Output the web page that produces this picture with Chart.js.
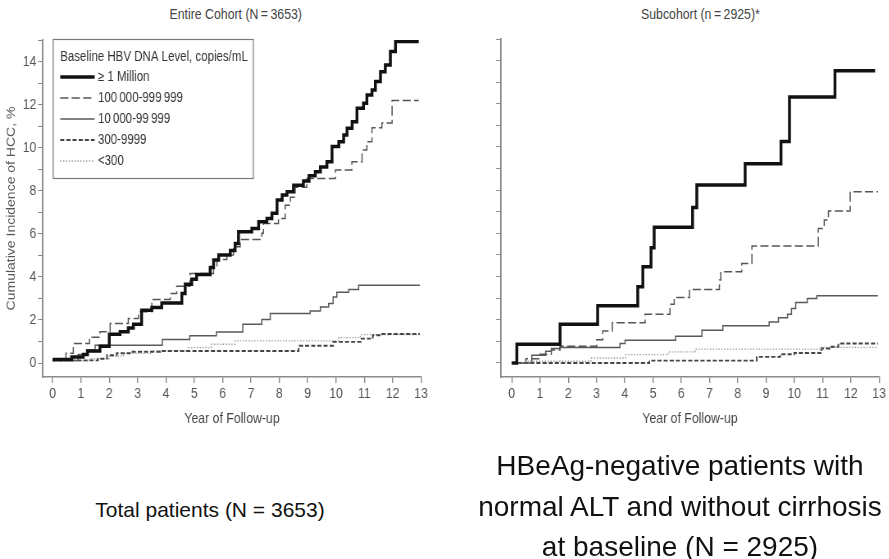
<!DOCTYPE html>
<html>
<head>
<meta charset="utf-8">
<script src="https://cdn.jsdelivr.net/npm/chart.js@4.4.1/dist/chart.umd.min.js"></script>
<style>
    html, body { margin: 0; padding: 0; background: #fff; }
    body { width: 889px; height: 559px; position: relative; overflow: hidden; font-family: "Liberation Sans", Arial, sans-serif; }
    /* the original figure is horizontally condensed; draw wide, then squeeze */
    canvas { position: absolute; top: 0; transform-origin: 0 0; transform: scaleX(0.82); }
    #left { left: 0; }
    #right { left: 450px; }
    .panel-title { position: absolute; top: 5px; width: 300px; text-align: center; color: #444; font-size: 15px; }
    .panel-title span { display: inline-block; transform: scaleX(0.82); }
    .caption { position: absolute; text-align: center; color: #111; }
</style>
</head>
<body>
<div class="panel-title" style="left:86px"><span>Entire Cohort (N&#8201;=&#8201;3653)</span></div>
<div class="panel-title" style="left:550px"><span>Subcohort (n&#8201;=&#8201;2925)*</span></div>
<canvas id="left" width="549" height="440"></canvas>
<canvas id="right" width="536" height="440"></canvas>
<div class="caption" style="left:10px; top:496px; width:400px; font-size:21px; line-height:28px">Total patients (N = 3653)</div>
<div class="caption" style="left:460px; top:446px; width:440px; font-size:28px; line-height:40.5px">HBeAg-negative patients with<br>normal ALT and without cirrhosis<br>at baseline (N = 2925)</div>

<script>
// ---- data: Kaplan-Meier style steps, year -> cumulative incidence (%) ----
const seriesLabels = ['\u2265 1 Million', '100\u2009000-999\u2009999', '10\u2009000-99\u2009999', '300-9999', '<300'];
const xTicks = [0, 1, 2, 3, 4, 5, 6, 7, 8, 9, 10, 11, 12, 13];
const yTicks = [0, 1, 2, 3, 4, 5, 6, 7, 8, 9, 10, 11, 12, 13, 14, 15];

// Entire cohort
const allMillionT = [0, 0.67, 1.08, 1.23, 1.67, 2.0, 2.38, 2.67, 2.85, 3.14, 3.5, 3.85, 4.56, 4.68, 4.91, 5.08, 5.56, 5.68, 5.86, 6.27, 6.44, 6.56, 7.03, 7.27, 7.56, 7.74, 7.92, 8.1, 8.27, 8.5, 8.85, 9.05, 9.27, 9.45, 9.68, 9.86, 10.1, 10.27, 10.39, 10.57, 10.74, 10.97, 11.09, 11.27, 11.39, 11.57, 11.74, 11.92, 12.1, 12.92];
const allMillionV = [0.16, 0.28, 0.40, 0.56, 0.78, 1.33, 1.45, 1.63, 1.80, 2.45, 2.58, 2.79, 3.23, 3.66, 3.89, 4.11, 4.44, 4.78, 5.01, 5.22, 5.55, 6.09, 6.25, 6.56, 6.71, 6.95, 7.57, 7.80, 7.95, 8.26, 8.45, 8.70, 8.88, 9.10, 9.35, 10.05, 10.28, 10.59, 10.90, 11.20, 11.83, 12.06, 12.45, 12.68, 13.07, 13.53, 13.84, 14.47, 14.93, 14.93];
const all100kT = [0, 0.47, 0.73, 1.3, 1.67, 2.03, 2.67, 3.03, 3.5, 4.15, 4.38, 4.85, 5.68, 5.8, 6.15, 6.38, 6.62, 7.38, 7.44, 7.97, 8.21, 8.39, 8.56, 8.97, 9.98, 10.56, 10.92, 11.09, 11.27, 11.62, 11.98, 12.92];
const all100kV = [0.15, 0.45, 0.90, 1.20, 1.45, 1.83, 2.07, 2.38, 2.95, 3.23, 3.57, 4.16, 4.50, 4.81, 5.01, 5.40, 5.74, 6.02, 6.48, 6.71, 7.33, 7.70, 8.16, 8.57, 8.96, 9.35, 9.89, 10.28, 10.93, 11.14, 12.19, 12.19];
const all10kT = [0, 0.9, 1.2, 1.5, 3.87, 4.84, 5.78, 6.71, 7.38, 7.68, 9.09, 9.45, 9.74, 9.9, 10.03, 10.45, 10.8, 12.96];
const all10kV = [0.12, 0.40, 0.60, 0.82, 1.09, 1.26, 1.44, 1.80, 2.02, 2.30, 2.42, 2.60, 2.76, 3.07, 3.29, 3.41, 3.61, 3.61];
const all300T = [0, 1.6, 1.92, 2.26, 2.73, 3.8, 8.68, 9.9, 10.9, 11.3, 11.6, 12.96];
const all300V = [0.12, 0.20, 0.36, 0.45, 0.52, 0.56, 0.80, 0.98, 1.13, 1.29, 1.35, 1.35];
const allLowT = [0, 1.3, 2.0, 2.5, 3.5, 4.8, 5.6, 6.44, 10.1, 10.86, 12.96];
const allLowV = [0.10, 0.20, 0.32, 0.45, 0.56, 0.71, 0.87, 1.03, 1.18, 1.32, 1.32];

// Subcohort
const subMillionT = [0, 0.18, 1.71, 3.04, 4.46, 4.64, 4.93, 5.04, 6.4, 6.55, 8.26, 9.53, 9.83, 11.44, 12.86];
const subMillionV = [0, 0.87, 1.79, 2.65, 3.53, 4.45, 5.33, 6.28, 7.20, 8.24, 9.22, 10.25, 12.31, 13.53, 13.53];
const sub100kT = [0, 0.5, 1.0, 1.4, 1.71, 3.01, 3.22, 3.56, 4.72, 5.6, 5.75, 6.29, 7.35, 7.4, 8.14, 8.5, 10.85, 11.06, 11.21, 11.98, 12.96];
const sub100kV = [0, 0.20, 0.40, 0.60, 0.77, 1.08, 1.48, 1.86, 2.26, 2.72, 3.03, 3.40, 3.84, 4.22, 4.61, 5.41, 6.23, 6.62, 7.04, 7.93, 7.93];
const sub10kT = [0, 0.71, 1.2, 1.4, 1.7, 3.83, 4.01, 5.8, 6.73, 7.47, 9.11, 9.44, 9.76, 9.9, 10.05, 10.46, 10.8, 12.96];
const sub10kV = [0, 0.36, 0.54, 0.67, 0.72, 0.90, 1.05, 1.24, 1.52, 1.72, 1.90, 2.09, 2.26, 2.52, 2.80, 2.99, 3.11, 3.11];
const sub300T = [0, 4.87, 8.67, 9.5, 10.0, 10.97, 11.26, 11.56, 12.96];
const sub300V = [0, 0.11, 0.28, 0.40, 0.46, 0.67, 0.75, 0.90, 0.90];
const subLowT = [0, 0.55, 2.8, 4.03, 5.54, 6.49, 10.9, 12.96];
const subLowV = [0, 0.08, 0.23, 0.39, 0.51, 0.64, 0.72, 0.72];

const FONT = '"Liberation Sans", Arial, sans-serif';
const AXIS = '#8a8a8a';

Chart.defaults.color = '#444';
Chart.defaults.font.family = FONT;

function steps(ts, vs) {
    return ts.map((t, i) => ({ x: t, y: vs[i] }));
}

// line styles for the five DNA level groups
const styles = [
    { borderColor: '#111', borderWidth: 3.5, borderDash: [] },
    { borderColor: '#555', borderWidth: 1.5, borderDash: [10, 4] },
    { borderColor: '#5a5a5a', borderWidth: 1.5, borderDash: [] },
    { borderColor: '#444', borderWidth: 1.9, borderDash: [5, 2.5] },
    { borderColor: '#999', borderWidth: 1.3, borderDash: [1.5, 2] },
];

function makeDatasets(groups) {
    return groups.map((g, i) => Object.assign({
        label: seriesLabels[i],
        data: steps(g[0], g[1]),
        stepped: true,
        pointRadius: 0,
        fill: false,
    }, styles[i]));
}

/* ---- legend box drawn inside the left panel ---- */
const legendBox = {
    id: 'legendBox',
    afterDraw(chart) {
        const ctx = chart.ctx;
        const left = chart.chartArea.left + 12;
        const top = chart.chartArea.top - 1;
        ctx.save();
        ctx.fillStyle = '#fff';
        ctx.fillRect(left, top, 244, 139);
        ctx.strokeStyle = '#777';
        ctx.lineWidth = 1.2;
        ctx.strokeRect(left + 0.5, top + 0.5, 244, 139);
        ctx.font = '14px ' + FONT;
        ctx.fillStyle = '#333';
        ctx.textBaseline = 'middle';
        ctx.fillText('Baseline HBV DNA Level, copies/mL', left + 9, top + 18);
        chart.data.datasets.forEach((ds, i) => {
            const y = top + 38 + i * 21;
            ctx.strokeStyle = ds.borderColor;
            ctx.lineWidth = ds.borderWidth;
            ctx.setLineDash(ds.borderDash || []);
            ctx.beginPath();
            ctx.moveTo(left + 9, y);
            ctx.lineTo(left + 51, y);
            ctx.stroke();
            ctx.setLineDash([]);
            ctx.fillText(ds.label, left + 55, y);
        });
        ctx.restore();
    }
};

function makeChart(id, datasets, opts) {
    return new Chart(document.getElementById(id).getContext('2d'), {
        type: 'line',
        data: { datasets: datasets },
        plugins: opts.plugins || [],
        options: {
            responsive: false,
            animation: false,
            layout: { padding: { top: opts.top, right: opts.right, left: 0, bottom: 0 } },
            plugins: { legend: { display: false }, tooltip: { enabled: false } },
            scales: {
                x: {
                    type: 'linear',
                    min: opts.xMin,
                    max: 13,
                    afterBuildTicks: s => { s.ticks = xTicks.map(v => ({ value: v })); },
                    afterFit: s => { s.height = 63; },
                    grid: { drawOnChartArea: false, drawTicks: true, tickLength: 6, color: AXIS, lineWidth: 1.4 },
                    border: { display: true, color: AXIS, width: 1.5 },
                    ticks: { font: { size: 15 }, color: '#555', padding: 2, maxRotation: 0, autoSkip: false },
                    title: { display: true, text: 'Year of Follow-up', font: { size: 15 }, color: '#444', padding: { top: 0, bottom: 12 } }
                },
                y: {
                    type: 'linear',
                    min: -0.65,
                    max: 15,
                    afterBuildTicks: s => { s.ticks = yTicks.map(v => ({ value: v })); },
                    afterFit: s => { s.width = opts.yWidth; },
                    grid: { drawOnChartArea: false, drawTicks: true, tickLength: 6, color: AXIS },
                    border: { display: true, color: AXIS, width: 1.9 },
                    ticks: {
                        font: { size: 15 }, color: '#555', padding: 2, autoSkip: false,
                        callback: v => (opts.yLabels && v % 2 === 0 && v <= 14) ? v : ''
                    },
                    title: {
                        display: !!opts.yTitle, text: opts.yTitle || '',
                        font: { size: 14 }, color: '#555', padding: { top: 6, bottom: 0 }
                    }
                }
            }
        }
    });
}

makeChart('left', makeDatasets([
    [allMillionT, allMillionV], [all100kT, all100kV], [all10kT, all10kV], [all300T, all300V], [allLowT, allLowV]
]), { top: 40, right: 35.6, xMin: -0.34, yWidth: 52.4, yLabels: true, yTitle: 'Cumulative Incidence of HCC, %', plugins: [legendBox] });

makeChart('right', makeDatasets([
    [subMillionT, subMillionV], [sub100kT, sub100kV], [sub10kT, sub10kV], [sub300T, sub300V], [subLowT, subLowV]
]), { top: 39, right: 12.8, xMin: -0.38, yWidth: 62.2, yLabels: false });
</script>
</body>
</html>
